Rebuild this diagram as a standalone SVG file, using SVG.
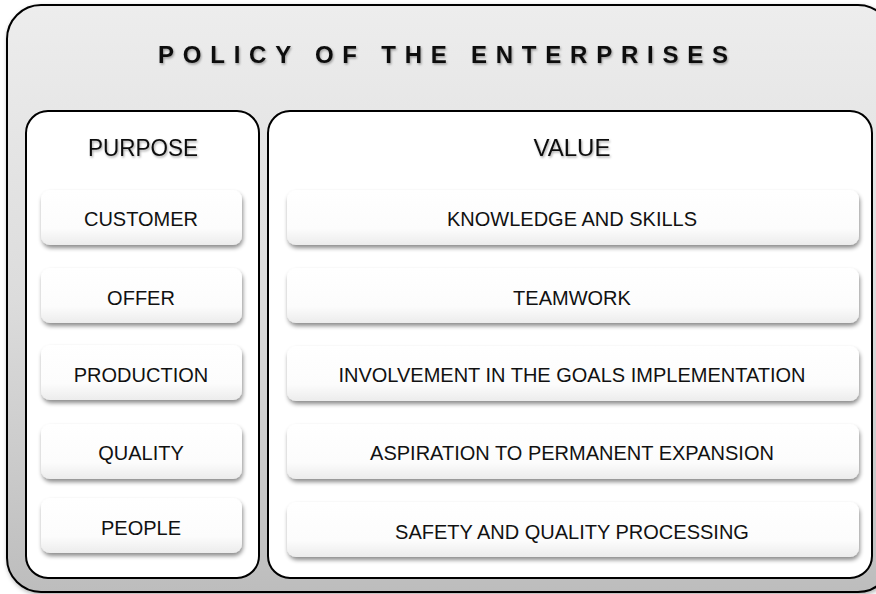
<svg xmlns="http://www.w3.org/2000/svg" width="876" height="594" viewBox="0 0 876 594">
<defs>
<linearGradient id="outerG" x1="0" y1="0" x2="0" y2="1">
<stop offset="0" stop-color="#ededed"/>
<stop offset="0.5" stop-color="#dcdcdc"/>
<stop offset="1" stop-color="#bdbdbd"/>
</linearGradient>
<linearGradient id="btnG" x1="0" y1="0" x2="0" y2="1">
<stop offset="0" stop-color="#ffffff"/>
<stop offset="0.7" stop-color="#fcfcfc"/>
<stop offset="1" stop-color="#ececec"/>
</linearGradient>
<filter id="btnShadow" x="-5%" y="-20%" width="110%" height="150%">
<feDropShadow dx="1" dy="3" stdDeviation="2" flood-color="#000" flood-opacity="0.45"/>
</filter>
<filter id="txtShadow" x="-5%" y="-30%" width="110%" height="160%">
<feDropShadow dx="1" dy="1.5" stdDeviation="1" flood-color="#000" flood-opacity="0.35"/>
</filter>
<filter id="frameShadow" x="-5%" y="-5%" width="110%" height="110%">
<feDropShadow dx="1" dy="2" stdDeviation="2" flood-color="#000" flood-opacity="0.3"/>
</filter>
</defs>
<style>
.btn{fill:url(#btnG);filter:url(#btnShadow);}
.lbl{font-family:"Liberation Sans",Arial,sans-serif;font-size:20px;fill:#111;text-anchor:middle;}
.hdr{font-family:"Liberation Sans",Arial,sans-serif;font-size:24px;fill:#111;text-anchor:middle;filter:url(#txtShadow);}
.panel{fill:#ffffff;stroke:#000;stroke-width:2;}
</style>
<g id="frame">
<rect x="7" y="5" width="885" height="587" rx="34" ry="34" fill="url(#outerG)" stroke="#000" stroke-width="2" filter="url(#frameShadow)"/>
<text x="158" y="63" textLength="570" lengthAdjust="spacing" font-family="Liberation Sans, Arial, sans-serif" font-size="24" font-weight="bold" fill="#111" filter="url(#txtShadow)">POLICY OF THE ENTERPRISES</text>
</g>
<g id="purpose">
<rect class="panel" x="26" y="111" width="233" height="467" rx="22" ry="22"/>
<text class="hdr" x="143" y="156" textLength="110" lengthAdjust="spacingAndGlyphs">PURPOSE</text>
</g>
<g id="value">
<rect class="panel" x="268" y="111" width="604" height="467" rx="22" ry="22"/>
<text class="hdr" x="572" y="156">VALUE</text>
</g>
<g id="customer"><rect class="btn" x="41" y="190" width="201" height="55" rx="9"/><text class="lbl" x="141" y="226">CUSTOMER</text></g>
<g id="offer"><rect class="btn" x="41" y="268" width="201" height="55" rx="9"/><text class="lbl" x="141" y="305">OFFER</text></g>
<g id="production"><rect class="btn" x="41" y="345" width="201" height="55" rx="9"/><text class="lbl" x="141" y="382">PRODUCTION</text></g>
<g id="quality"><rect class="btn" x="41" y="424" width="201" height="55" rx="9"/><text class="lbl" x="141" y="460">QUALITY</text></g>
<g id="people"><rect class="btn" x="41" y="498" width="201" height="55" rx="9"/><text class="lbl" x="141" y="535">PEOPLE</text></g>
<g id="knowledge"><rect class="btn" x="287" y="190" width="572" height="55" rx="9"/><text class="lbl" x="572" y="226">KNOWLEDGE AND SKILLS</text></g>
<g id="teamwork"><rect class="btn" x="287" y="268" width="572" height="55" rx="9"/><text class="lbl" x="572" y="305">TEAMWORK</text></g>
<g id="involvement"><rect class="btn" x="287" y="346" width="572" height="55" rx="9"/><text class="lbl" x="572" y="382">INVOLVEMENT IN THE GOALS IMPLEMENTATION</text></g>
<g id="aspiration"><rect class="btn" x="287" y="424" width="572" height="55" rx="9"/><text class="lbl" x="572" y="460">ASPIRATION TO PERMANENT EXPANSION</text></g>
<g id="safety"><rect class="btn" x="287" y="502" width="572" height="55" rx="9"/><text class="lbl" x="572" y="539">SAFETY AND QUALITY PROCESSING</text></g>
<g id="connectors"/>
</svg>
